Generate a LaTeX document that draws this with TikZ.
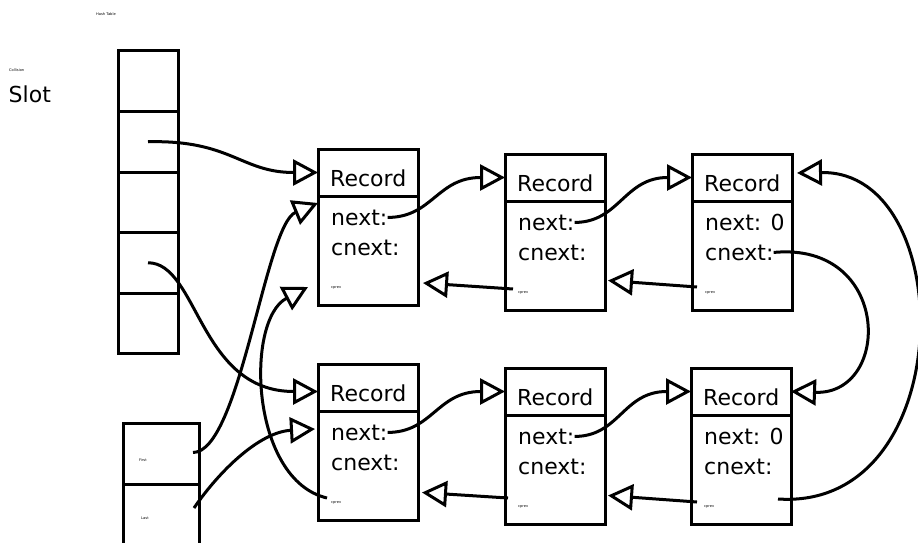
\documentclass[tikz,border=0pt]{standalone}
\usepackage{fontspec}
\setmainfont{DejaVu Sans}
\usetikzlibrary{arrows.meta,calc}

% one record: header box, body box and its four field labels
\newcommand\recordbox[4]{%
  \node[hdr,anchor=north west] (#1h) at (#2,#3) {};
  \node[bdy,anchor=north] (#1b) at (#1h.south) {};
  \node[big,anchor=base west] (#1rec) at ($(#1h.north west)+(12,37)$) {Record};
  \node[big,anchor=base west] (#1next) at ($(#1h.north west)+(13,76)$) {#4};
  \node[big,anchor=base west] (#1cnext) at ($(#1h.north west)+(13,106)$) {cnext:};
  \node[tiny,anchor=west] (#1cprev) at ($(#1h.north west)+(13,139)$) {cprev};
}

\begin{document}
\begin{tikzpicture}[x=1pt,y=-1pt,
  box/.style={draw,line width=3pt,inner sep=0pt,outer sep=0pt,minimum width=100pt},
  hdr/.style={box,minimum height=47pt},
  bdy/.style={box,minimum height=109.5pt},
  cell/.style={draw,line width=3pt,inner sep=0pt,outer sep=0pt,minimum width=60pt,minimum height=60.5pt},
  headbox/.style={draw,line width=3pt,inner sep=0pt,outer sep=0pt,minimum width=76pt},
  big/.style={inner sep=0pt,font=\fontsize{22}{26}\selectfont},
  tiny/.style={inner sep=0pt,font=\fontsize{3.6}{4}\selectfont},
  link/.style={line width=3pt,-{Triangle[open,length=25pt,width=26pt,line join=miter]}}]

\useasboundingbox (0,0) rectangle (918,543);

% headings
\node[tiny,anchor=west] (title) at (96,14) {Hash Table};
\node[tiny,anchor=west] (coll) at (9,70) {Collision};
\node[big,anchor=base west] (slot) at (8.5,102) {Slot};

% hash table slots
\node[cell,anchor=north west] (h1) at (118,51) {};
\node[cell,anchor=north] (h2) at (h1.south) {};
\node[cell,anchor=north] (h3) at (h2.south) {};
\node[cell,anchor=north] (h4) at (h3.south) {};
\node[cell,anchor=north] (h5) at (h4.south) {};

% first / last list heads
\node[headbox,minimum height=61pt,anchor=north west] (first) at (123,423) {};
\node[headbox,minimum height=80pt,anchor=north] (last) at (first.south) {};
\node[tiny,anchor=west] (firstlbl) at (139,460) {First};
\node[tiny,anchor=west] (lastlbl) at (141,518) {Last};

% records
\recordbox{ra}{318}{149}{next:}
\recordbox{rb}{505}{154}{next:}
\recordbox{rc}{692}{154}{next: 0}
\recordbox{rd}{318}{364}{next:}
\recordbox{re}{505}{368}{next:}
\recordbox{rf}{691}{368}{next: 0}

\coordinate (upend) at (308,287);

% slots to records
\draw[link] (h2.center) .. controls +(83,-2) and +(-77,0) .. (rah.west);
\draw[link] (h4.center) .. controls +(50,0) and +(-119,0) .. ($(rdh.west)+(0,4)$);

% first / last pointers
\draw[link] ($(first.east)+(-6,-1)$) .. controls +(47,0) and +(-53,22) .. ($(rab.north west)+(0,7)$);
\draw[link] ($(last.north east)+(-5,24)$) .. controls +(26,-38) and +(-55,3) .. ($(rdb.north west)+(-3,18)$);

% collision prev of the lower first record
\draw[link] ($(rdcprev.west)+(-4,-5)$) .. controls +(-77,-18) and +(-63,33) .. (upend);

% next pointers
\draw[link] (ranext.east) .. controls +(45,0) and +(-68,0) .. (rbh.west);
\draw[link] (rbnext.east) .. controls +(45,0) and +(-68,0) .. (rch.west);
\draw[link] (rdnext.east) .. controls +(45,0) and +(-68,0) .. (reh.west);
\draw[link] (renext.east) .. controls +(45,0) and +(-68,0) .. (rfh.west);

% prev pointers
\draw[link] ($(rbcprev.west)+(-5,-4)$) -- ($(rab.south east)+(5,-22.5)$);
\draw[link] ($(rccprev.west)+(-8,-6)$) -- ($(rbb.south east)+(3,-30)$);
\draw[link] ($(recprev.west)+(-10,-9)$) -- ($(rdb.south east)+(4,-28)$);
\draw[link] ($(rfcprev.west)+(-7,-5)$) -- ($(reb.south east)+(3,-29)$);

% collision links between the two chains
\draw[link] (rccnext.east) .. controls +(118,-11) and +(101,3.5) .. (rfh.east);
\draw[link] ($(rfb.south east)+(-13,-25.5)$) .. controls +(182,12) and +(163,-3) .. ($(rch.east)+(5,-4.5)$);

\end{tikzpicture}
\end{document}
